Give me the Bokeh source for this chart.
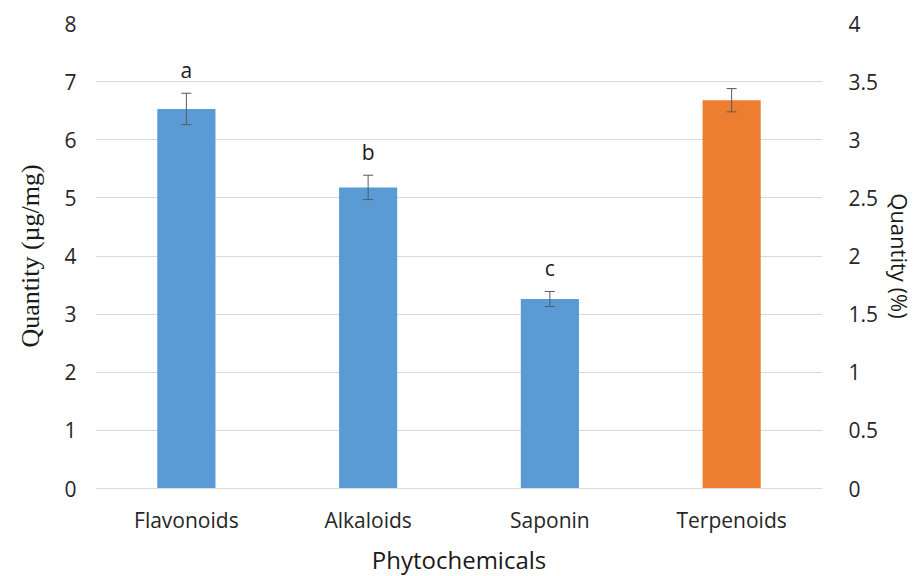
from bokeh.plotting import figure
from bokeh.models import (Range1d, LinearAxis, ColumnDataSource, Whisker, TeeHead,
                          FixedTicker)
from bokeh.core.properties import value
from bokeh.embed import file_html
from bokeh.resources import INLINE

# Phytochemical content: first three in µg/mg (left axis), terpenoids in % (right axis)
compounds = ["Flavonoids", "Alkaloids", "Saponin", "Terpenoids"]

ugmg_names = ["Flavonoids", "Alkaloids", "Saponin"]
ugmg_values = [6.53, 5.18, 3.26]
ugmg_sd = [0.27, 0.21, 0.13]
ugmg_letters = ["a", "b", "c"]

pct_names = ["Terpenoids"]
pct_values = [3.34]
pct_sd = [0.10]

left_ticks = [0, 1, 2, 3, 4, 5, 6, 7, 8]
right_ticks = [0, 0.5, 1, 1.5, 2, 2.5, 3, 3.5, 4]
right_tick_labels = ["0", "0.5", "1", "1.5", "2", "2.5", "3", "3.5", "4"]

TICK_FONT = "Open Sans"
BLUE = "#5B9BD5"
ORANGE = "#ED7D31"
GRID = "#d9d9d9"
ERR = "#595959"

ug = ColumnDataSource(dict(
    x=ugmg_names, y=ugmg_values,
    lo=[v - s for v, s in zip(ugmg_values, ugmg_sd)],
    hi=[v + s for v, s in zip(ugmg_values, ugmg_sd)],
    lab=ugmg_letters,
))
pc = ColumnDataSource(dict(
    x=pct_names, y=pct_values,
    lo=[v - s for v, s in zip(pct_values, pct_sd)],
    hi=[v + s for v, s in zip(pct_values, pct_sd)],
))

p = figure(x_range=compounds, y_range=Range1d(0, 8),
           frame_width=727, frame_height=465,
           min_border_left=95, min_border_right=94,
           min_border_top=23, min_border_bottom=88,
           output_backend="svg", toolbar_location=None,
           background_fill_color="white", border_fill_color="white")
p.outline_line_color = None
p.extra_y_ranges = {"pct": Range1d(0, 4)}

p.vbar(x="x", top="y", width=0.32, source=ug, color=BLUE, line_color=None)
p.vbar(x="x", top="y", width=0.32, source=pc, color=ORANGE, line_color=None,
       y_range_name="pct")

for src, rng in ((ug, "default"), (pc, "pct")):
    w = Whisker(base="x", upper="hi", lower="lo", source=src, level="overlay",
                line_color=ERR, line_width=1, y_range_name=rng,
                upper_head=TeeHead(size=10, line_color=ERR, line_width=1),
                lower_head=TeeHead(size=10, line_color=ERR, line_width=1))
    p.add_layout(w)

p.text(x="x", y="hi", text="lab", source=ug, y_offset=-23,
       text_align="center", text_baseline="middle",
       text_font=value(TICK_FONT), text_font_size="21px", text_color="#1a1a1a")

# grid
p.xgrid.grid_line_color = None
p.ygrid.grid_line_color = GRID
p.ygrid.grid_line_width = 1

# left axis
ax = p.yaxis[0]
ax.ticker = FixedTicker(ticks=left_ticks)
ax.axis_label = "Quantity (µg/mg)"
ax.axis_label_text_font = "Liberation Serif"
ax.axis_label_text_font_size = "26px"
ax.axis_label_text_font_style = "normal"
ax.axis_label_text_color = "#1a1a1a"
ax.axis_label_standoff = 16
ax.major_label_text_font = TICK_FONT
ax.major_label_text_font_size = "21px"
ax.major_label_text_color = "#262626"
ax.major_label_standoff = 13
ax.axis_line_color = None
ax.major_tick_line_color = None
ax.minor_tick_line_color = None

# right axis
rax = LinearAxis(y_range_name="pct", ticker=FixedTicker(ticks=right_ticks))
rax.major_label_overrides = {t: s for t, s in zip(right_ticks, right_tick_labels)}
rax.axis_label = "Quantity (%)"
rax.axis_label_text_font = TICK_FONT
rax.axis_label_text_font_size = "22px"
rax.axis_label_text_font_style = "normal"
rax.axis_label_text_color = "#1a1a1a"
rax.axis_label_standoff = 4
rax.major_label_text_font = TICK_FONT
rax.major_label_text_font_size = "21px"
rax.major_label_text_color = "#262626"
rax.major_label_standoff = 20
rax.axis_line_color = None
rax.major_tick_line_color = None
rax.minor_tick_line_color = None
p.add_layout(rax, "right")

# x axis
xa = p.xaxis[0]
xa.axis_label = "Phytochemicals"
xa.axis_label_text_font = TICK_FONT
xa.axis_label_text_font_size = "24px"
xa.axis_label_text_font_style = "normal"
xa.axis_label_text_color = "#1a1a1a"
xa.axis_label_standoff = 6
xa.major_label_text_font = TICK_FONT
xa.major_label_text_font_size = "21px"
xa.major_label_text_color = "#262626"
xa.major_label_standoff = 11
xa.axis_line_color = GRID
xa.major_tick_line_color = None
xa.minor_tick_line_color = None

open("out.html", "w").write(file_html(p, INLINE))
